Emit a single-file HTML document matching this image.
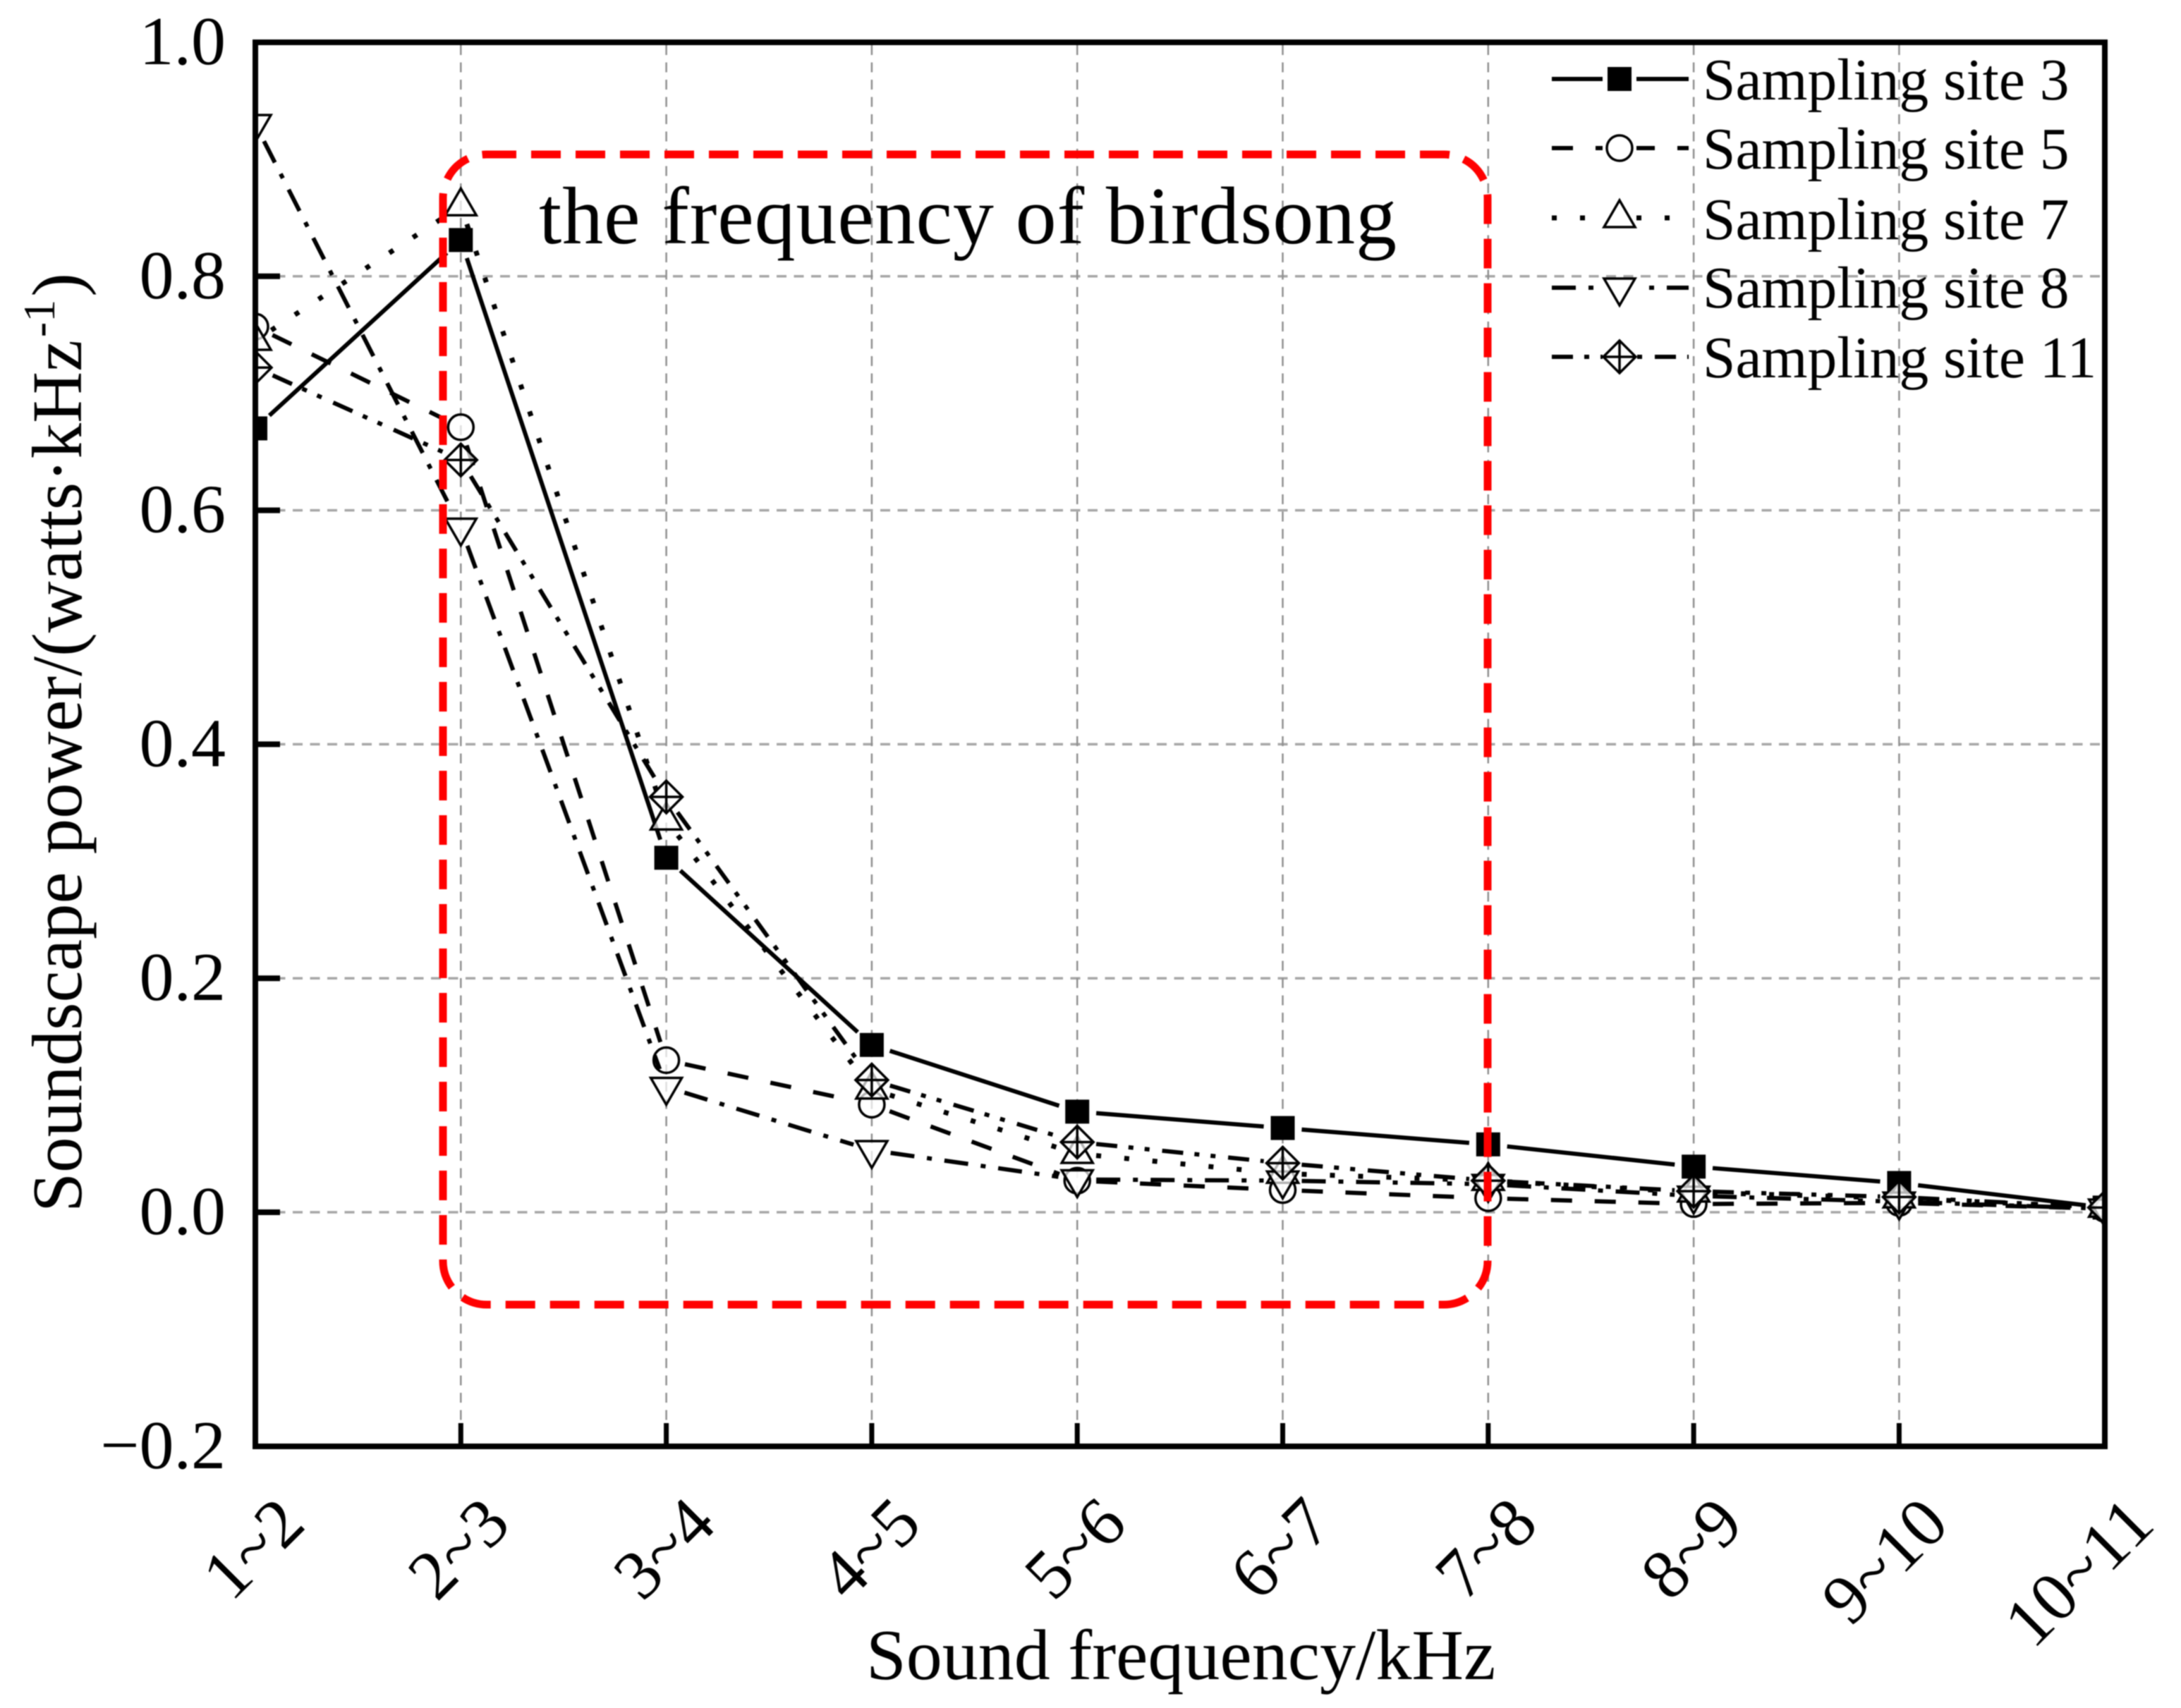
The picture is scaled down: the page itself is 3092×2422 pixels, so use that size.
<!DOCTYPE html>
<html lang="en">
<head>
<meta charset="utf-8">
<title>Soundscape power by sound frequency</title>
<style>
html,body{margin:0;padding:0;background:#fff;}
svg{display:block;font-family:"Liberation Serif","Times New Roman",serif;fill:#000;filter:blur(0.8px);}
</style>
</head>
<body>
<svg id="chart" xmlns="http://www.w3.org/2000/svg" width="3092" height="2422" viewBox="0 0 3092 2422">
  <defs>
    <clipPath id="plot-clip"><rect x="362" y="60" width="2622" height="1991"/></clipPath>
  </defs>
  <rect width="3092" height="2422" fill="#fff"/>
  <g id="grid"></g>
  <g id="series" clip-path="url(#plot-clip)"></g>
  <rect x="628" y="219" width="1481" height="1631" rx="62" ry="62" fill="none" stroke="#ff0000" stroke-width="11" stroke-dasharray="42 21"/>
  <text x="764" y="345" font-size="116" textLength="1216" lengthAdjust="spacing">the frequency of birdsong</text>
  <g id="ticks"></g>
  <rect x="362" y="60" width="2622" height="1991" fill="none" stroke="#000" stroke-width="8"/>
  <g id="labels"></g>
  <text transform="translate(115,1719) rotate(-90)" font-size="101">Soundscape power/(watts·kHz<tspan font-size="64" dx="4" dy="-38">-1</tspan><tspan dx="4" dy="38">)</tspan></text>
  <text x="1228" y="2381" font-size="102">Sound frequency/kHz</text>
  <g id="legend"></g>
</svg>
<script>
const categories = ['1~2','2~3','3~4','4~5','5~6','6~7','7~8','8~9','9~10','10~11'];
const yTicks = [-0.2, 0.0, 0.2, 0.4, 0.6, 0.8, 1.0];
const yTickLabels = ['\u22120.2','0.0','0.2','0.4','0.6','0.8','1.0'];
const seriesNames = ['Sampling site 3','Sampling site 5','Sampling site 7','Sampling site 8','Sampling site 11'];
const site3 = [0.670,0.831,0.303,0.143,0.086,0.072,0.058,0.039,0.025,0.004];
const site5 = [0.757,0.671,0.130,0.092,0.027,0.019,0.012,0.007,0.008,0.003];
const site7 = [0.745,0.860,0.335,0.105,0.050,0.033,0.027,0.017,0.012,0.004];
const site8 = [0.930,0.585,0.107,0.053,0.028,0.027,0.024,0.014,0.009,0.003];
const site11 = [0.722,0.643,0.355,0.113,0.060,0.042,0.027,0.018,0.013,0.004];

const NS = 'http://www.w3.org/2000/svg';
const xAxis = i => 362 + i * 291.3;
const yAxis = v => 1719 - 1659 * v;
const allSeries = [site3, site5, site7, site8, site11];
const dashes = ['', '30 32', '7 33', '34 18 7 18', '30 16 7 16 7 18'];
const widths = [6, 6, 7, 6, 6];
const markerKinds = ['square','circle','triangle-up','triangle-down','diamond'];

function mk(parent, tag, attrs, text) {
  const el = document.createElementNS(NS, tag);
  for (const k in attrs) el.setAttribute(k, attrs[k]);
  if (text !== undefined) el.textContent = text;
  parent.appendChild(el);
  return el;
}

function lineAttrs(s, x1, y1, x2, y2, offset) {
  const a = {x1: x1, y1: y1, x2: x2, y2: y2, stroke: '#000', 'stroke-width': widths[s]};
  if (dashes[s]) {
    a['stroke-dasharray'] = dashes[s];
    a['stroke-dashoffset'] = -offset;
  }
  return a;
}

function drawMarker(parent, kind, cx, cy) {
  const base = {fill: '#fff', 'fill-opacity': 0.7, stroke: '#000', 'stroke-width': 3.5};
  const g = mk(parent, 'g', {});
  
  
  if (kind === 'square') {
    mk(g, 'rect', {x: cx - 17, y: cy - 17, width: 34, height: 34, fill: '#000'});
  } else if (kind === 'circle') {
    mk(g, 'circle', Object.assign({cx: cx, cy: cy, r: 18}, base));
  } else if (kind === 'triangle-up') {
    mk(g, 'polygon', Object.assign({points: (cx) + ',' + (cy - 25) + ' ' + (cx + 22) + ',' + (cy + 13) + ' ' + (cx - 22) + ',' + (cy + 13)}, base));
  } else if (kind === 'triangle-down') {
    mk(g, 'polygon', Object.assign({points: (cx) + ',' + (cy + 25) + ' ' + (cx + 22) + ',' + (cy - 13) + ' ' + (cx - 22) + ',' + (cy - 13)}, base));
  } else {
    mk(g, 'polygon', Object.assign({points: cx + ',' + (cy - 23) + ' ' + (cx + 23) + ',' + cy + ' ' + cx + ',' + (cy + 23) + ' ' + (cx - 23) + ',' + cy}, base));
    mk(g, 'path', {d: 'M' + (cx - 23) + ' ' + cy + 'H' + (cx + 23) + 'M' + cx + ' ' + (cy - 23) + 'V' + (cy + 23), fill: 'none', stroke: '#000', 'stroke-width': 3.5});
  }
}

// gridlines and ticks
const grid = document.getElementById('grid');
const ticks = document.getElementById('ticks');
const labels = document.getElementById('labels');
yTicks.forEach(function (v, i) {
  const y = yAxis(v);
  if (i > 0 && i < yTicks.length - 1) {
    const gl = mk(grid, 'line', {x1: 366, y1: y, x2: 2980, y2: y, stroke: '#a6a6a6', 'stroke-width': 3.5, 'stroke-dasharray': '14 10.5'});
    
    
    const t = mk(ticks, 'line', {x1: 362, y1: y, x2: 397, y2: y, stroke: '#000', 'stroke-width': 8});
    
    
  }
  const lab = mk(labels, 'text', {x: 320, y: y + 31, 'font-size': 98, 'text-anchor': 'end'}, yTickLabels[i]);
  
  
});
categories.forEach(function (c, i) {
  const x = xAxis(i);
  if (i > 0 && i < categories.length - 1) {
    const gl = mk(grid, 'line', {x1: x, y1: 64, x2: x, y2: 2047, stroke: '#8f8f8f', 'stroke-width': 2.5, 'stroke-dasharray': '14 10.5'});
    
    
    const t = mk(ticks, 'line', {x1: x, y1: 2051, x2: x, y2: 2018, stroke: '#000', 'stroke-width': 7});
    
    
  }
  const lab = mk(labels, 'text', {transform: 'translate(' + (x + 74) + ',2165) rotate(-45)', 'font-size': 99, 'text-anchor': 'end'}, c);
  
  
});

// series lines (with gaps around markers) and markers
const seriesGroup = document.getElementById('series');
const GAP = 27;
allSeries.forEach(function (values, s) {
  const g = mk(seriesGroup, 'g', {});
  
  
  for (let i = 0; i < values.length - 1; i++) {
    const x1 = xAxis(i), y1 = yAxis(values[i]), x2 = xAxis(i + 1), y2 = yAxis(values[i + 1]);
    const len = Math.hypot(x2 - x1, y2 - y1);
    const ux = (x2 - x1) / len, uy = (y2 - y1) / len;
    const seg = mk(g, 'line', lineAttrs(s, x1 + ux * GAP, y1 + uy * GAP, x2 - ux * GAP, y2 - uy * GAP, 0));
    
    
  }
  values.forEach(function (v, i) {
    drawMarker(g, markerKinds[s], xAxis(i), yAxis(v));
  });
});

// legend
const legend = document.getElementById('legend');
const legendLineY = [112, 210, 309, 408, 506];
const legendBaseY = [141, 239, 339, 436, 535];
seriesNames.forEach(function (name, s) {
  const row = mk(legend, 'g', {});
  
  
  const ly = legendLineY[s];
  const left = mk(row, 'line', lineAttrs(s, 2200, ly, 2272, ly, 0));
  
  
  const right = mk(row, 'line', lineAttrs(s, 2320, ly, 2394, ly, 120));
  
  
  drawMarker(row, markerKinds[s], 2296, ly);
  const t = mk(row, 'text', {x: 2414, y: legendBaseY[s], 'font-size': 83.5}, name);
  
  
});
</script>
</body>
</html>
